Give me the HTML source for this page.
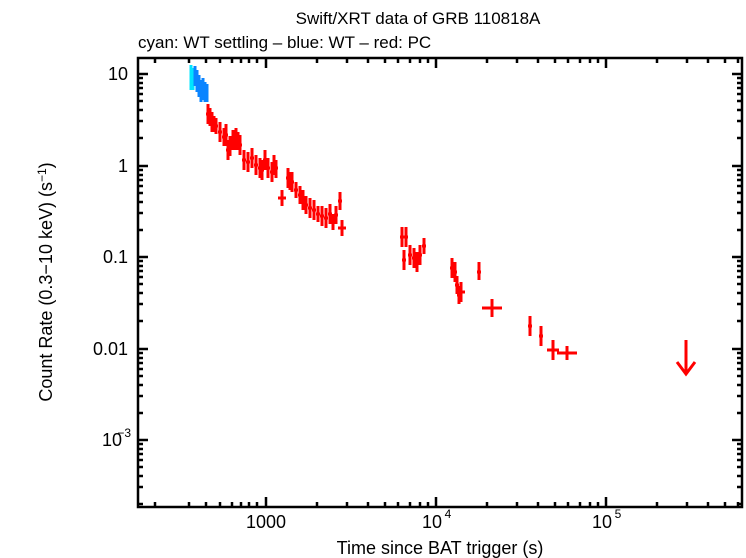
<!DOCTYPE html>
<html><head><style>body{margin:0;background:#fff}svg{display:block}text{font-family:"Liberation Sans",sans-serif}</style></head>
<body>
<svg width="746" height="558" xmlns="http://www.w3.org/2000/svg">
<rect width="746" height="558" fill="#fff"/>
<text x="418" y="24" font-size="17" text-anchor="middle">Swift/XRT data of GRB 110818A</text>
<text x="138" y="48" font-size="17">cyan: WT settling – blue: WT – red: PC</text>
<g stroke="#000" stroke-width="2.5" fill="none">
<rect x="138" y="58" width="604" height="449"/>
<path d="M266 507v-10M436 507v-10M606 507v-10M266 58v10M436 58v10M606 58v10"/>
<path d="M155 507v-5M189 507v-5M206 507v-5M220 507v-5M232 507v-5M241 507v-5M249 507v-5M257 507v-5M317 507v-5M347 507v-5M368 507v-5M385 507v-5M398 507v-5M410 507v-5M420 507v-5M428 507v-5M487 507v-5M517 507v-5M538 507v-5M555 507v-5M568 507v-5M580 507v-5M590 507v-5M598 507v-5M657 507v-5M687 507v-5M708 507v-5M725 507v-5M738 507v-5
M155 58v5M189 58v5M206 58v5M220 58v5M232 58v5M241 58v5M249 58v5M257 58v5M317 58v5M347 58v5M368 58v5M385 58v5M398 58v5M410 58v5M420 58v5M428 58v5M487 58v5M517 58v5M538 58v5M555 58v5M568 58v5M580 58v5M590 58v5M598 58v5M657 58v5M687 58v5M708 58v5M725 58v5M738 58v5"/>
<path d="M138 74h10M138 166h10M138 257h10M138 349h10M138 440h10M742 74h-10M742 166h-10M742 257h-10M742 349h-10M742 440h-10"/>
<path d="M138 78h5M138 83h5M138 88h5M138 94h5M138 101h5M138 110h5M138 121h5M138 138h5M138 170h5M138 175h5M138 180h5M138 186h5M138 193h5M138 202h5M138 213h5M138 230h5M138 261h5M138 266h5M138 271h5M138 277h5M138 284h5M138 293h5M138 304h5M138 321h5M138 353h5M138 358h5M138 363h5M138 369h5M138 376h5M138 385h5M138 396h5M138 413h5M138 444h5M138 449h5M138 454h5M138 460h5M138 467h5M138 476h5M138 487h5M138 504h5
M742 78h-5M742 83h-5M742 88h-5M742 94h-5M742 101h-5M742 110h-5M742 121h-5M742 138h-5M742 170h-5M742 175h-5M742 180h-5M742 186h-5M742 193h-5M742 202h-5M742 213h-5M742 230h-5M742 261h-5M742 266h-5M742 271h-5M742 277h-5M742 284h-5M742 293h-5M742 304h-5M742 321h-5M742 353h-5M742 358h-5M742 363h-5M742 369h-5M742 376h-5M742 385h-5M742 396h-5M742 413h-5M742 444h-5M742 449h-5M742 454h-5M742 460h-5M742 467h-5M742 476h-5M742 487h-5M742 504h-5"/>
</g>
<g font-size="18" text-anchor="end">
<text x="128" y="80">10</text><text x="128" y="172">1</text><text x="128" y="263">0.1</text><text x="128" y="355">0.01</text>
<text x="122" y="446">10</text><text x="131" y="437" font-size="12">−3</text>
</g>
<g font-size="18" text-anchor="middle">
<text x="266" y="528">1000</text>
<text x="432" y="528">10</text><text x="448" y="518" font-size="12">4</text>
<text x="602" y="528">10</text><text x="618" y="518" font-size="12">5</text>
<text x="440" y="554">Time since BAT trigger (s)</text>
</g>
<text transform="translate(52,282) rotate(-90)" font-size="18" text-anchor="middle">Count Rate (0.3−10 keV) (s<tspan font-size="12" dy="-6">−1</tspan><tspan dy="6">)</tspan></text>
<g stroke="#00e5ff" stroke-width="3"><path d="M191 65v25M193 68v22M190 78h4"/></g>
<g stroke="#0a84ff" stroke-width="3">
<path d="M195 66v20M197 70v22M199 75v22M201 80v22M203 78v22M205 82v20M207 84v18M194 76h4M196 82h4M200 86h4M202 90h4M204 92h4"/>
</g>
<g stroke="#f00" stroke-width="3">
<path d="
M208 104v20M206 114h4M210 108v18M208 118h4M212 112v20M210 122h4M214 116v16M212 124h4M216 118v16M214 126h4
M220 122v20M218 132h4M224 128v18M222 137h4M226 124v22M224 135h4M230 136v20M228 146h4M228 140v20M226 150h4M233 130v20M231 140h4M236 128v22M234 138h4M238 132v18M236 142h4M240 135v20M238 145h4
M244 150v20M242 160h4M248 152v20M246 162h4M252 148v20M250 158h4M256 155v20M254 165h4M260 158v20M258 168h4M262 160v20M260 170h4M265 150v20M263 160h4M268 158v20M266 168h4M272 162v20M270 172h4M274 155v20M272 165h4M276 160v18M274 168h4
M282 190v16M278 198h8M288 168v20M286 178h4M290 172v18M288 182h4M292 172v20M290 182h4M296 182v16M294 190h4M300 186v18M298 195h4M303 190v20M301 200h4M306 196v18M304 205h4M310 198v20M308 208h4M314 200v20M312 210h4M318 206v16M316 214h4M322 206v20M320 216h4M326 208v20M324 218h4M330 204v20M328 214h4M333 214v16M331 222h4M336 206v18M334 215h4M340 192v18M338 201h4M342 220v16M338 228h8
M402 227v20M400 237h4M406 227v20M404 237h4M404 250v20M402 260h4M410 245v20M408 255h4M414 248v20M412 258h4M417 252v20M415 262h4M420 245v20M418 255h4M424 238v16M422 246h4
M452 258v20M450 268h4M455 262v20M453 272h4M457 276v18M455 285h4M459 286v18M457 295h4M461 282v20M457 292h8M479 262v18M477 272h4
M492 299v18M482 308h20M530 316v20M528 326h4M541 326v20M539 336h4M553 340v20M547 350h12M567 346v14M557 353h20
M686 340v32"/>
</g>
<path d="M677 362l9 12 9-12" stroke="#f00" stroke-width="3" fill="none"/>
</svg>
</body></html>
